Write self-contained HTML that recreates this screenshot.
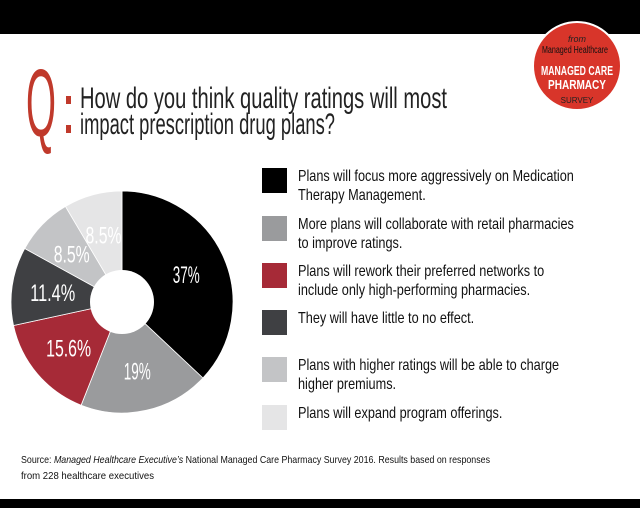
<!DOCTYPE html>
<html><head><meta charset="utf-8"><style>
html,body{margin:0;padding:0;background:#fff;width:640px;height:508px;overflow:hidden}
svg{display:block}
text{font-family:"Liberation Sans",sans-serif}
</style></head><body>
<svg id="chart" width="640" height="508" viewBox="0 0 640 508">
<rect x="0" y="0" width="640" height="34" fill="#000"/>
<rect x="0" y="499" width="640" height="9" fill="#000"/>
<g>
<text x="26" y="136" font-size="96" fill="#c0392b" textLength="30" lengthAdjust="spacingAndGlyphs">Q</text>
<rect x="66" y="96" width="5" height="8" fill="#c0392b"/>
<rect x="66" y="125" width="5" height="8" fill="#c0392b"/>
<text x="80" y="108" font-size="30" fill="#222" textLength="367" lengthAdjust="spacingAndGlyphs">How do you think quality ratings will most</text>
<text x="80" y="134" font-size="30" fill="#222" textLength="255" lengthAdjust="spacingAndGlyphs">impact prescription drug plans?</text>
</g>
<g>
<circle cx="577" cy="66" r="44" fill="#d8352a" stroke="#fff" stroke-width="2"/>
<text x="577" y="42" font-size="9" font-style="italic" fill="#222" text-anchor="middle" font-family="Liberation Serif">from</text>
<text x="575" y="53" font-size="10" fill="#111" text-anchor="middle" textLength="66" lengthAdjust="spacingAndGlyphs">Managed Healthcare</text>
<text x="577" y="75" font-size="13" font-weight="bold" fill="#fff" text-anchor="middle" textLength="72" lengthAdjust="spacingAndGlyphs">MANAGED CARE</text>
<text x="577" y="89" font-size="13" font-weight="bold" fill="#fff" text-anchor="middle" textLength="58" lengthAdjust="spacingAndGlyphs">PHARMACY</text>
<text x="577" y="103" font-size="8" fill="#222" text-anchor="middle">SURVEY</text>
</g>
<g id="pie"></g>
<g id="legend"></g>
<g>
<text x="21" y="463" font-size="10.5" fill="#111" textLength="469" lengthAdjust="spacingAndGlyphs">Source: <tspan font-style="italic">Managed Healthcare Executive’s</tspan> National Managed Care Pharmacy Survey 2016. Results based on responses</text>
<text x="21" y="479" font-size="10.5" fill="#111" textLength="133" lengthAdjust="spacingAndGlyphs">from 228 healthcare executives</text>
</g>
</svg>
<script>
const categories = ["Plans will focus more aggressively on Medication|Therapy Management.","More plans will collaborate with retail pharmacies|to improve ratings.","Plans will rework their preferred networks to|include only high-performing pharmacies.","They will have little to no effect.","Plans with higher ratings will be able to charge|higher premiums.","Plans will expand program offerings."];
const values = [37, 19, 15.6, 11.4, 8.5, 8.5];
const valueLabels = ["37%","19%","15.6%","11.4%","8.5%","8.5%"];
const colors = ["#000000","#9a9b9d","#a62a37","#3f4043","#c3c4c6","#e5e5e6"];
const legendRowTops = [168,216,263,310,357,405];

const NS="http://www.w3.org/2000/svg";
const pie=document.getElementById('pie');
const cx=122, cy=302, R=111, r0=32;
const total=values.reduce((a,b)=>a+b,0);
function pt(a,rad){return [cx+rad*Math.sin(a), cy-rad*Math.cos(a)];}
let acc=0;
values.forEach((v,i)=>{
  const a0=acc/total*2*Math.PI; acc+=v; const a1=acc/total*2*Math.PI;
  const [x0,y0]=pt(a0,R),[x1,y1]=pt(a1,R);
  const large=(a1-a0)>Math.PI?1:0;
  const p=document.createElementNS(NS,'path');
  p.setAttribute('d',`M${cx},${cy} L${x0},${y0} A${R},${R} 0 ${large} 1 ${x1},${y1} Z`);
  p.setAttribute('fill',colors[i]);
  p.setAttribute('stroke','#fff');
  p.setAttribute('stroke-width','0.8');
  
  
  pie.appendChild(p);
  const am=(a0+a1)/2;
  const [lx,ly]=pt(am,70);
  const t=document.createElementNS(NS,'text');
  t.setAttribute('x',lx);t.setAttribute('y',ly+9);
  t.setAttribute('text-anchor','middle');
  t.setAttribute('font-size','24');
  t.setAttribute('fill','#fff');
  const lab=valueLabels[i];
  t.setAttribute('textLength',String(lab.length*9));
  t.setAttribute('lengthAdjust','spacingAndGlyphs');
  t.textContent=lab;
  
  
  pie.appendChild(t);
});
const hole=document.createElementNS(NS,'circle');
hole.setAttribute('cx',cx);hole.setAttribute('cy',cy);hole.setAttribute('r',r0);hole.setAttribute('fill','#fff');


pie.appendChild(hole);

const lg=document.getElementById('legend');
categories.forEach((c,i)=>{
  const top=legendRowTops[i];
  const g=document.createElementNS(NS,'g');
  
  
  const s=document.createElementNS(NS,'rect');
  s.setAttribute('x',262);s.setAttribute('y',top);s.setAttribute('width',25);s.setAttribute('height',25);
  s.setAttribute('fill',colors[i]);
  
  
  g.appendChild(s);
  c.split('|').forEach((line,j)=>{
    const t=document.createElementNS(NS,'text');
    t.setAttribute('x',0);t.setAttribute('y',0);
    t.setAttribute('transform',`translate(298 ${top+13+j*19}) scale(0.82 1)`);
    t.setAttribute('font-size','15.5');t.setAttribute('fill','#111');
    t.textContent=line;
    
    
    g.appendChild(t);
  });
  lg.appendChild(g);
});
</script>
</body></html>
